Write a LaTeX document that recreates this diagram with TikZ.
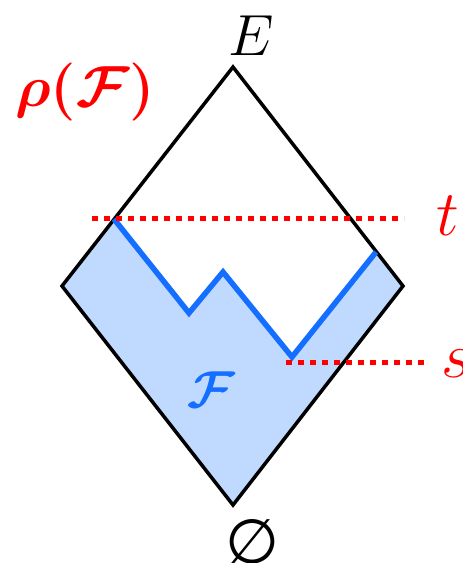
\documentclass[tikz,border=0pt]{standalone}
\usepackage{fix-cm}
\usepackage{amsmath,bm}
\usepackage{fontspec}
\newfontfamily\symsans{DejaVu Sans}
\begin{document}
\begin{tikzpicture}[x=1pt,y=-1pt,
  edge/.style={draw=black,line width=3.5pt,line join=miter},
  chain/.style={draw=chainblue,line width=5.5pt,line join=miter},
  level/.style={draw=red,line width=5pt,dash pattern=on 6pt off 6pt},
  lbl/.style={inner sep=0pt,outer sep=0pt}]
\definecolor{chainblue}{RGB}{20,110,255}
\definecolor{fillblue}{RGB}{192,217,255}
\useasboundingbox (0,0) rectangle (463,563);
\coordinate (T) at (233,67);
\coordinate (L) at (62,286);
\coordinate (R) at (403,286);
\coordinate (B) at (233,505);
\coordinate (p1) at (114,219);
\coordinate (p2) at (189,313);
\coordinate (p3) at (223,272);
\coordinate (p4) at (292,357);
\coordinate (p5) at (376,252);
\fill[fillblue] (p1) -- (p2) -- (p3) -- (p4) -- (p5) -- (R) -- (B) -- (L) -- cycle;
\draw[edge] (T) -- (R) -- (B) -- (L) -- cycle;
\draw[chain] (p1) -- (p2) -- (p3) -- (p4) -- (p5);
\coordinate (t0) at (92,218);
\coordinate (t1) at (404,218);
\coordinate (s0) at (286,362);
\coordinate (s1) at (426,362);
\draw[level] (t0) -- (t1);
\draw[level] (s0) -- (s1);
\node[lbl,anchor=center] (E) at (251,36) {\fontsize{58}{60}\selectfont $E$};
\node[lbl,anchor=north] (empty) at (253,519) {\fontsize{62}{66}\selectfont\symsans ∅};
\node[lbl,anchor=base west,text=red] (t) at (436,235) {\fontsize{64}{70}\selectfont $t$};
\node[lbl,anchor=base west,text=red] (s) at (441,377) {\fontsize{64}{70}\selectfont $s$};
\node[lbl,anchor=center,text=red] (rho) at (85,92) {\fontsize{58}{64}\selectfont $\bm{\rho(\mathcal{F})}$};
\node[lbl,anchor=center,text=chainblue] (F) at (211,390) {\fontsize{52}{58}\selectfont $\bm{\mathcal{F}}$};
\end{tikzpicture}
\end{document}
